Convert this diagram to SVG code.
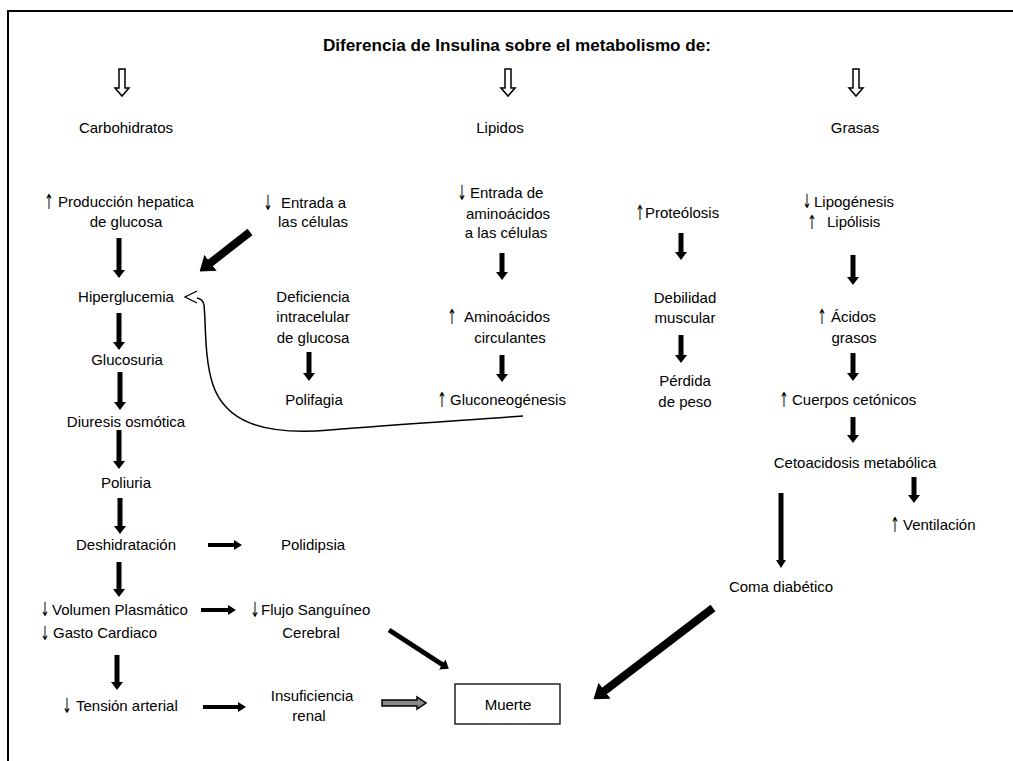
<svg xmlns="http://www.w3.org/2000/svg" width="1013" height="761" viewBox="0 0 1013 761">
<style>
.t{font-family:"Liberation Sans",Arial,sans-serif;font-size:15px;fill:#000}
.c{text-anchor:middle}
.b{font-weight:bold;font-size:16px}
.ar{font-family:"DejaVu Sans","Liberation Sans",sans-serif;font-size:14px;fill:#000;text-anchor:middle}
.k{stroke:#000;fill:none;stroke-width:5}
.kb{stroke:#000;fill:none;stroke-width:8}
.kh{stroke:#000;fill:none;stroke-width:4}
</style>
<defs>
<marker id="h" markerUnits="userSpaceOnUse" viewBox="0 0 8 12" markerWidth="8" markerHeight="12" refX="1" refY="6" orient="auto"><path d="M0,0 L8,6 L0,12 z" fill="#000"/></marker>
<marker id="hb" markerUnits="userSpaceOnUse" viewBox="0 0 14 20" markerWidth="14" markerHeight="20" refX="2" refY="10" orient="auto"><path d="M0,0 L14,10 L0,20 z" fill="#000"/></marker>
<marker id="hs" markerUnits="userSpaceOnUse" viewBox="0 0 8 10" markerWidth="8" markerHeight="10" refX="1" refY="5" orient="auto"><path d="M0,0 L8,5 L0,10 z" fill="#000"/></marker>
<symbol id="hollow" viewBox="-8 0 16 30" width="16" height="30" overflow="visible"><polygon points="-3,2 3,2 3,21 7,21 0,29 -7,21 -3,21" fill="#fff" stroke="#000" stroke-width="1.5"/></symbol>
</defs>
<rect x="8" y="11" width="1100" height="800" fill="#fff" stroke="#000" stroke-width="2"/>

<g id="title"><text class="t c b" x="517" y="51" textLength="388" lengthAdjust="spacingAndGlyphs">Diferencia de Insulina sobre el metabolismo de:</text></g>
<g id="n_carbohidratos"><text class="t c" x="126" y="133">Carbohidratos</text></g>
<g id="n_lipidos"><text class="t c" x="500" y="133">Lipidos</text></g>
<g id="n_grasas"><text class="t c" x="855" y="133">Grasas</text></g>

<g id="n_produccion"><text class="ar" transform="translate(49,209) scale(0.8,1.5)">↑</text><text class="t" x="58" y="207">Producción hepatica</text><text class="t c" x="126" y="227">de glucosa</text></g>
<g id="n_entrada"><text class="ar" transform="translate(268,210) scale(0.8,1.5)">↓</text><text class="t" x="281" y="208">Entrada a</text><text class="t c" x="313" y="227">las células</text></g>
<g id="n_hiperglucemia"><text class="t c" x="126" y="302">Hiperglucemia</text></g>
<g id="n_glucosuria"><text class="t c" x="127" y="365">Glucosuria</text></g>
<g id="n_diuresis"><text class="t c" x="126" y="427">Diuresis osmótica</text></g>
<g id="n_poliuria"><text class="t c" x="126" y="488">Poliuria</text></g>
<g id="n_deshidratacion"><text class="t c" x="126" y="550">Deshidratación</text></g>
<g id="n_polidipsia"><text class="t c" x="313" y="550">Polidipsia</text></g>
<g id="n_deficiencia"><text class="t c" x="313" y="302">Deficiencia</text><text class="t c" x="313" y="322">intracelular</text><text class="t c" x="313" y="343">de glucosa</text></g>
<g id="n_polifagia"><text class="t c" x="314" y="405">Polifagia</text></g>
<g id="n_volumen"><text class="ar" transform="translate(45,616) scale(0.8,1.4)">↓</text><text class="t" x="52" y="615">Volumen Plasmático</text><text class="ar" transform="translate(45,640) scale(0.8,1.4)">↓</text><text class="t" x="53" y="638">Gasto Cardiaco</text></g>
<g id="n_flujo"><text class="ar" transform="translate(255,617) scale(0.8,1.5)">↓</text><text class="t" x="261" y="615">Flujo Sanguíneo</text><text class="t c" x="311" y="638">Cerebral</text></g>
<g id="n_tension"><text class="ar" transform="translate(67,713) scale(0.8,1.5)">↓</text><text class="t" x="76" y="711">Tensión arterial</text></g>
<g id="n_insuficiencia"><text class="t c" x="312" y="701">Insuficiencia</text><text class="t c" x="309" y="721">renal</text></g>
<g id="n_muerte"><rect x="455" y="684" width="105" height="40" fill="#fff" stroke="#000" stroke-width="1.3"/><text class="t c" x="508" y="710">Muerte</text></g>

<g id="n_entrada_aa"><text class="ar" transform="translate(462,200) scale(0.8,1.5)">↓</text><text class="t" x="470" y="198">Entrada de</text><text class="t c" x="508" y="219">aminoácidos</text><text class="t c" x="506" y="238">a las células</text></g>
<g id="n_aminoacidos"><text class="ar" transform="translate(452,324) scale(0.8,1.5)">↑</text><text class="t" x="464" y="322">Aminoácidos</text><text class="t c" x="510" y="343">circulantes</text></g>
<g id="n_gluconeogenesis"><text class="ar" transform="translate(442,407) scale(0.8,1.5)">↑</text><text class="t" x="450" y="405">Gluconeogénesis</text></g>
<g id="n_proteolosis"><text class="ar" transform="translate(640,220) scale(0.8,1.5)">↑</text><text class="t" x="645" y="218">Proteólosis</text></g>
<g id="n_debilidad"><text class="t c" x="685" y="303">Debilidad</text><text class="t c" x="685" y="323">muscular</text></g>
<g id="n_perdida"><text class="t c" x="685" y="386">Pérdida</text><text class="t c" x="685" y="407">de peso</text></g>

<g id="n_lipogenesis"><text class="ar" transform="translate(807,208) scale(0.8,1.4)">↓</text><text class="t" x="814" y="207">Lipogénesis</text><text class="ar" transform="translate(812,229) scale(0.8,1.4)">↑</text><text class="t" x="827" y="227">Lipólisis</text></g>
<g id="n_acidos"><text class="ar" transform="translate(822,324) scale(0.8,1.5)">↑</text><text class="t" x="831" y="322">Ácidos</text><text class="t c" x="854" y="343">grasos</text></g>
<g id="n_cuerpos"><text class="ar" transform="translate(784,407) scale(0.8,1.5)">↑</text><text class="t" x="792" y="405">Cuerpos cetónicos</text></g>
<g id="n_cetoacidosis"><text class="t c" x="855" y="468">Cetoacidosis metabólica</text></g>
<g id="n_ventilacion"><text class="ar" transform="translate(895,532) scale(0.8,1.5)">↑</text><text class="t" x="903" y="530">Ventilación</text></g>
<g id="n_coma"><text class="t c" x="781" y="592">Coma diabético</text></g>

<g id="connectors">
<use href="#hollow" x="114" y="67"/>
<use href="#hollow" x="500" y="67"/>
<use href="#hollow" x="848" y="67"/>
<line class="k" x1="119" y1="238" x2="119" y2="271" marker-end="url(#h)"/>
<line class="k" x1="119" y1="313" x2="119" y2="343" marker-end="url(#h)"/>
<line class="k" x1="120" y1="372" x2="120" y2="403" marker-end="url(#h)"/>
<line class="k" x1="119" y1="430" x2="119" y2="462" marker-end="url(#h)"/>
<line class="k" x1="120" y1="498" x2="120" y2="527" marker-end="url(#h)"/>
<line class="k" x1="119" y1="562" x2="119" y2="590" marker-end="url(#h)"/>
<line class="k" x1="117" y1="655" x2="117" y2="683" marker-end="url(#h)"/>
<line class="k" x1="309" y1="352" x2="309" y2="374" marker-end="url(#h)"/>
<line class="k" x1="502" y1="253" x2="502" y2="273" marker-end="url(#h)"/>
<line class="k" x1="502" y1="355" x2="502" y2="375" marker-end="url(#h)"/>
<line class="k" x1="681" y1="233" x2="681" y2="253" marker-end="url(#h)"/>
<line class="k" x1="681" y1="335" x2="681" y2="356" marker-end="url(#h)"/>
<line class="k" x1="853" y1="255" x2="853" y2="278" marker-end="url(#h)"/>
<line class="k" x1="853" y1="353" x2="853" y2="374" marker-end="url(#h)"/>
<line class="k" x1="853" y1="417" x2="853" y2="436" marker-end="url(#h)"/>
<line class="k" x1="914" y1="477" x2="914" y2="496" marker-end="url(#h)"/>
<line class="k" x1="781" y1="493" x2="781" y2="561" marker-end="url(#hs)"/>
<line class="kh" x1="208" y1="545" x2="235" y2="545" marker-end="url(#hs)"/>
<line class="kh" x1="201" y1="610" x2="229" y2="610" marker-end="url(#hs)"/>
<line class="kh" x1="203" y1="707" x2="239" y2="707" marker-end="url(#hs)"/>
<polygon points="382,700 417,700 417,697 426,703 417,709 417,706 382,706" fill="#888" stroke="#000" stroke-width="1.5"/>
<line class="kb" x1="250" y1="232" x2="209" y2="264" marker-end="url(#hb)"/>
<line class="k" x1="389" y1="630" x2="443" y2="665" marker-end="url(#h)"/>
<line class="kb" x1="713" y1="608" x2="603" y2="692" marker-end="url(#hb)"/>
<path d="M523,416 C470,420 400,424 330,430 C260,436 225,420 213,385 C204,358 206,322 204,305 Q203,299 197,298" fill="none" stroke="#000" stroke-width="1.5"/>
<path d="M197,291 L185,297 L197,303" fill="none" stroke="#000" stroke-width="1.3"/>
</g>
</svg>
